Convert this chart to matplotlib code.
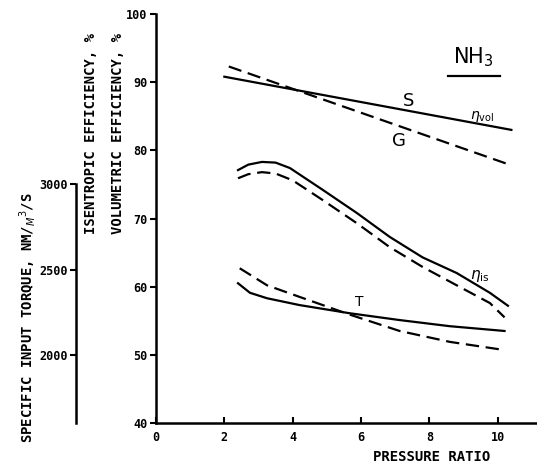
import matplotlib
matplotlib.use("Agg")
import matplotlib.pyplot as plt

# Volumetric efficiency (%)
vol_x = [2.0, 10.4]
vol_S = [90.8, 83.0]
volG_x = [2.13, 10.4]
vol_G = [92.3, 77.8]

# Isentropic efficiency (%)
is_S_x = [2.4, 2.7, 3.1, 3.5, 3.92, 4.88, 5.88, 6.84, 7.8, 8.8, 9.77, 10.3]
is_S = [77.1, 77.9, 78.3, 78.2, 77.4, 74.2, 70.8, 67.3, 64.3, 62.0, 59.1, 57.2]
is_G_x = [2.4, 2.7, 3.1, 3.5, 4.0, 4.88, 5.88, 6.84, 7.8, 8.8, 9.77, 10.2]
is_G = [75.9, 76.5, 76.8, 76.6, 75.6, 72.7, 69.3, 65.8, 62.9, 60.2, 57.6, 55.5]

# Specific input torque (Nm/m3/s)
tq_S_x = [2.4, 2.75, 3.25, 4.2, 5.67, 7.13, 8.6, 10.2]
tq_S = [2420, 2364, 2332, 2292, 2244, 2204, 2168, 2140]
tq_G_x = [2.45, 3.25, 4.2, 5.67, 7.13, 8.6, 10.2]
tq_G = [2508, 2408, 2340, 2236, 2140, 2076, 2028]

x_ticks = [0, 2, 4, 6, 8, 10]
y_ticks = [40, 50, 60, 70, 80, 90, 100]
tq_ticks = [2000, 2500, 3000]

mono = "DejaVu Sans Mono"
W, H = 537, 466
fig = plt.figure(figsize=(W / 100, H / 100), dpi=100)
L, B, R, T = 156, 423, 537, 14
pos = [L / W, (H - B) / H, (R - L) / W, (B - T) / H]
ax = fig.add_axes(pos)
ax2 = fig.add_axes(pos, sharex=ax)
ax2.patch.set_visible(False)

lw = 1.6
dash = (0, (6, 3))
kw = dict(color="black", lw=lw, solid_joinstyle="round", dash_joinstyle="round")
ax.plot(vol_x, vol_S, **kw)
ax.plot(volG_x, vol_G, linestyle=dash, **kw)
ax.plot(is_S_x, is_S, **kw)
ax.plot(is_G_x, is_G, linestyle=dash, **kw)
ax2.plot(tq_S_x, tq_S, **kw)
ax2.plot(tq_G_x, tq_G, linestyle=dash, **kw)

ax.set_xlim(0, 11.15)
ax.set_ylim(40, 100)
ax2.set_ylim(1600, 4000)

for s in ["top", "right"]:
    ax.spines[s].set_visible(False)
for s in ["top", "right", "bottom"]:
    ax2.spines[s].set_visible(False)
ax.spines["left"].set_linewidth(1.8)
ax.spines["bottom"].set_linewidth(1.8)
ax2.spines["left"].set_position(("outward", 80 * 0.72))
ax2.spines["left"].set_linewidth(1.8)
ax2.spines["left"].set_bounds(1600, 3000)

ax.set_xticks(x_ticks)
ax.set_yticks(y_ticks)
ax2.set_yticks(tq_ticks)
ax.tick_params(axis="x", direction="in", length=4, width=1.5, labelsize=8.5,
               pad=6)
ax.tick_params(axis="y", direction="out", length=4, width=1.5, labelsize=8.5,
               pad=2)
ax2.tick_params(axis="y", direction="out", length=4, width=1.5, labelsize=8.5, pad=2)
ax2.tick_params(axis="x", bottom=False, labelbottom=False)
for lab in ax.get_xticklabels() + ax.get_yticklabels() + ax2.get_yticklabels():
    lab.set_family(mono)
    lab.set_weight("bold")

# axis labels
fig.text(91 / W, 1 - 134 / H, "ISENTROPIC EFFICIENCY, %", rotation=90,
         ha="center", va="center", family=mono, fontsize=10, weight="bold")
fig.text(118 / W, 1 - 134 / H, "VOLUMETRIC EFFICIENCY, %", rotation=90,
         ha="center", va="center", family=mono, fontsize=10, weight="bold")
fig.text(28 / W, 1 - 318 / H, "SPECIFIC INPUT TORQUE, NM/$_{M}$$^{3}$/S", rotation=90,
         ha="center", va="center", family=mono, fontsize=10, weight="bold")
fig.text(432 / W, 1 - 457 / H, "PRESSURE RATIO", ha="center", va="center",
         family=mono, fontsize=10, weight="bold")

# annotations
sans = "DejaVu Sans"
ax.text(7.4, 87.2, "S", fontsize=13, family=sans, ha="center", va="center")
ax.text(7.1, 81.3, "G", fontsize=13, family=sans, ha="center", va="center")
ax.text(9.55, 84.9, r"$\eta_{\rm vol}$", fontsize=10, ha="center", va="center")
ax.text(9.47, 61.6, r"$\eta_{\rm is}$", fontsize=11, ha="center", va="center")
ax2.text(5.96, 2310, "T", fontsize=10, family=sans, ha="center", va="center")
ax.text(9.3, 93.6, r"NH$_3$", fontsize=15, family=sans, ha="center", va="center")
ax.plot([8.54, 10.06], [90.9, 90.9], color="black", lw=1.6)

fig.savefig("out.png", dpi=100)
